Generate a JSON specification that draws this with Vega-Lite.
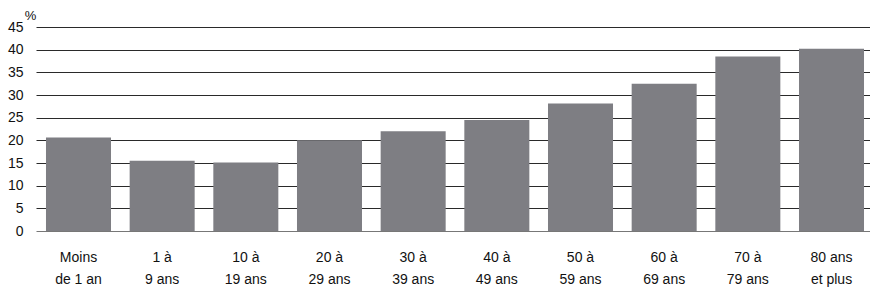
{
  "$schema": "https://vega.github.io/schema/vega-lite/v6.json",
  "autosize": "none",
  "width": 834,
  "height": 204,
  "padding": {"left": 36, "top": 27, "right": 0, "bottom": 62},
  "background": "white",
  "config": {"view": {"stroke": null}, "font": "Liberation Sans"},
  "data": {"values": [
    {"age": "Moins|de 1 an", "pct": 20.6},
    {"age": "1 à|9 ans", "pct": 15.5},
    {"age": "10 à|19 ans", "pct": 15.1},
    {"age": "20 à|29 ans", "pct": 20.0},
    {"age": "30 à|39 ans", "pct": 22.0},
    {"age": "40 à|49 ans", "pct": 24.5},
    {"age": "50 à|59 ans", "pct": 28.1},
    {"age": "60 à|69 ans", "pct": 32.5},
    {"age": "70 à|79 ans", "pct": 38.5},
    {"age": "80 ans|et plus", "pct": 40.2}
  ]},
  "mark": {"type": "bar", "color": "#7e7e83"},
  "encoding": {
    "x": {
      "field": "age", "type": "nominal", "sort": null,
      "scale": {"paddingInner": 0.223, "paddingOuter": 0.0955, "align": 0.625},
      "axis": {
        "title": null, "labelAngle": 0, "ticks": false, "domain": false,
        "labelExpr": "split(datum.label, '|')",
        "labelFont": "Liberation Sans",
        "labelFontSize": 14, "labelLineHeight": 22, "labelColor": "#111",
        "labelPadding": 19, "labelBaseline": "top"
      }
    },
    "y": {
      "field": "pct", "type": "quantitative",
      "scale": {"domain": [0, 45], "nice": false},
      "axis": {
        "values": [0, 5, 10, 15, 20, 25, 30, 35, 40, 45],
        "title": "%", "titleAngle": 0, "titleFont": "Liberation Sans",
        "titleFontSize": 13, "titleFontWeight": "normal", "titleColor": "#111",
        "titleX": -6, "titleY": -12, "titleAlign": "center", "titleBaseline": "middle",
        "ticks": false, "domain": false,
        "labelFont": "Liberation Sans",
        "labelFontSize": 14, "labelColor": "#111", "labelPadding": 13,
        "grid": true,
        "gridColor": {"condition": {"test": "datum.value === 0", "value": "#777"}, "value": "#2a2a2a"},
        "gridWidth": 1
      }
    }
  }
}
